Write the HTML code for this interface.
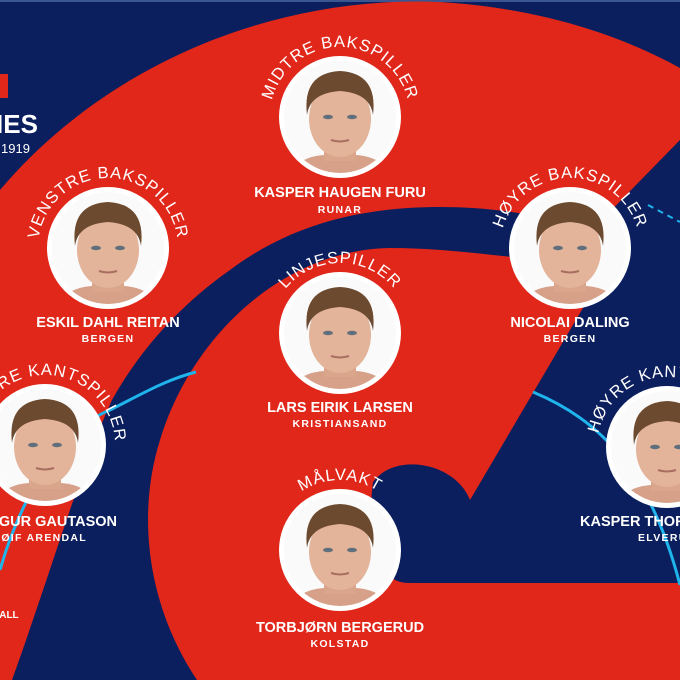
<!DOCTYPE html>
<html><head><meta charset="utf-8"><style>
html,body{margin:0;padding:0;background:#0b1f5e}
svg{display:block}
text{font-family:"Liberation Sans",sans-serif;fill:#fff}
.n{font-weight:bold;font-size:14.5px;text-anchor:middle}
.c{font-weight:bold;font-size:10.5px;letter-spacing:1.3px;text-anchor:middle}
.a{font-size:16.5px;letter-spacing:1px}
</style></head><body>
<svg width="680" height="680" viewBox="0 0 680 680" xmlns="http://www.w3.org/2000/svg">
<defs>
<clipPath id="cp"><circle cx="0" cy="0" r="56"/></clipPath>
<g id="face">
<circle r="61" fill="#fff"/>
<g clip-path="url(#cp)">
<rect x="-60" y="-60" width="120" height="120" fill="#fafafa"/>
<path d="M-50,60 Q-44,40 -16,38 L16,38 Q44,40 50,60Z" fill="#d7a088"/>
<rect x="-16" y="20" width="32" height="24" fill="#d9a58b"/>
<ellipse cx="0" cy="2" rx="31" ry="38" fill="#e3b39a"/>
<path d="M-33,-2 Q-38,-44 0,-46 Q38,-44 33,-2 Q30,-24 0,-26 Q-30,-24 -33,-2Z" fill="#6b4a2f"/>
<ellipse cx="-12" cy="0" rx="5" ry="2.2" fill="#5f6f7c"/>
<ellipse cx="12" cy="0" rx="5" ry="2.2" fill="#5f6f7c"/>
<path d="M-9,23 Q0,26 9,23" stroke="#a86e60" stroke-width="2" fill="none"/>
</g>
</g>
<path id="p1" d="M270,117 A70,70 0 0,1 410,117"/>
<path id="p2" d="M38,248 A70,70 0 0,1 178,248"/>
<path id="p3" d="M500,248 A70,70 0 0,1 640,248"/>
<path id="p4" d="M270,333 A70,70 0 0,1 410,333"/>
<path id="p5" d="M-25,445 A70,70 0 0,1 115,445"/>
<path id="p6" d="M597,447 A70,70 0 0,1 737,447"/>
<path id="p7" d="M270,550 A70,70 0 0,1 410,550"/>
</defs>
<rect width="680" height="680" fill="#0b1f5e"/>
<rect width="680" height="2" fill="#3a5590"/>
<path d="M0,190 C110,60 280,-5 440,2 C540,8 620,35 680,68 L680,140 L592,230 C540,214 490,207 440,207 C360,207 290,225 230,270 C180,305 140,350 112,400 C80,470 55,560 12,680 L0,680Z" fill="#e1261a"/>
<path d="M197,680 C150,610 135,520 160,440 C190,340 280,250 390,248 C470,248 540,265 610,262 L470,500 C455,462 395,452 373,482 C368,520 372,560 392,578 Q398,583 410,583 L680,583 L680,680Z" fill="#e1261a"/>
<path d="M0,570 C20,500 60,430 110,410 C140,395 165,380 196,372" stroke="#1fb4ec" stroke-width="3" fill="none"/>
<path d="M533,392 C600,420 650,470 680,585" stroke="#1fb4ec" stroke-width="3" fill="none"/>
<path d="M648,205 L680,222" stroke="#1fb4ec" stroke-width="2" stroke-dasharray="6,5" fill="none"/>
<rect x="0" y="74" width="8" height="24" fill="#e1261a"/>
<text x="-4" y="133" style="font-weight:bold;font-size:26px">IES</text>
<text x="1" y="153" style="font-size:13px">1919</text>
<text x="-8" y="618" style="font-size:10px;font-weight:bold">BALL</text>
<use href="#face" x="340" y="117"/>
<use href="#face" x="108" y="248"/>
<use href="#face" x="570" y="248"/>
<use href="#face" x="340" y="333"/>
<use href="#face" x="45" y="445"/>
<use href="#face" x="667" y="447"/>
<use href="#face" x="340" y="550"/>
<text class="a"><textPath href="#p1" startOffset="50%" text-anchor="middle">MIDTRE BAKSPILLER</textPath></text>
<text class="a"><textPath href="#p2" startOffset="50%" text-anchor="middle">VENSTRE BAKSPILLER</textPath></text>
<text class="a"><textPath href="#p3" startOffset="50%" text-anchor="middle">HØYRE BAKSPILLER</textPath></text>
<text class="a"><textPath href="#p4" startOffset="50%" text-anchor="middle">LINJESPILLER</textPath></text>
<text class="a"><textPath href="#p5" startOffset="50%" text-anchor="middle">VENSTRE KANTSPILLER</textPath></text>
<text class="a"><textPath href="#p6" startOffset="50%" text-anchor="middle">HØYRE KANTSPILLER</textPath></text>
<text class="a"><textPath href="#p7" startOffset="50%" text-anchor="middle">MÅLVAKT</textPath></text>
<text class="n" x="340" y="197">KASPER HAUGEN FURU</text><text class="c" x="340" y="213">RUNAR</text>
<text class="n" x="108" y="327">ESKIL DAHL REITAN</text><text class="c" x="108" y="342">BERGEN</text>
<text class="n" x="570" y="327">NICOLAI DALING</text><text class="c" x="570" y="342">BERGEN</text>
<text class="n" x="340" y="412">LARS EIRIK LARSEN</text><text class="c" x="340" y="427">KRISTIANSAND</text>
<text class="n" x="117" y="526" style="text-anchor:end">DAGUR GAUTASON</text><text class="c" x="87" y="541" style="text-anchor:end">ØIF ARENDAL</text>
<text class="n" x="580" y="526" style="text-anchor:start">KASPER THORSEN</text><text class="c" x="638" y="541" style="text-anchor:start">ELVERUM</text>
<text class="n" x="340" y="632">TORBJØRN BERGERUD</text><text class="c" x="340" y="647">KOLSTAD</text>
</svg>
</body></html>
